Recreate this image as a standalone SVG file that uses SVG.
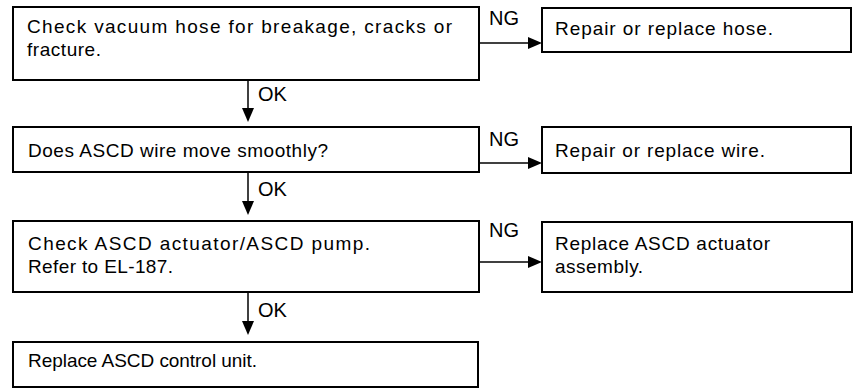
<svg xmlns="http://www.w3.org/2000/svg" width="860" height="388" viewBox="0 0 860 388">
  <style>
    .box { fill: #ffffff; stroke: #000000; stroke-width: 2; }
    .t { font-family: "Liberation Sans", Arial, sans-serif; font-size: 19px; fill: #000000; }
    .lbl { font-family: "Liberation Sans", Arial, sans-serif; font-size: 20px; fill: #000000; }
    .con { stroke: #000000; stroke-width: 1.5; fill: none; marker-end: url(#arr); }
  </style>
  <defs>
    <marker id="arr" markerUnits="userSpaceOnUse" markerWidth="14" markerHeight="12" refX="4" refY="6" orient="auto">
      <path d="M0,0 L14,6 L0,12 Z" fill="#000000"/>
    </marker>
  </defs>
  <rect x="0" y="0" width="860" height="388" fill="#ffffff"/>

  <g id="n1">
    <rect class="box" x="13" y="7" width="466" height="73"/>
    <text class="t" x="27" y="33" textLength="425" lengthAdjust="spacing">Check vacuum hose for breakage, cracks or</text>
    <text class="t" x="27" y="56" textLength="74" lengthAdjust="spacing">fracture.</text>
  </g>
  <g id="n2">
    <rect class="box" x="542" y="8" width="309" height="44"/>
    <text class="t" x="555" y="35" textLength="218" lengthAdjust="spacing">Repair or replace hose.</text>
  </g>
  <g id="n3">
    <rect class="box" x="13" y="127" width="466" height="45"/>
    <text class="t" x="28" y="157" textLength="300" lengthAdjust="spacing">Does ASCD wire move smoothly?</text>
  </g>
  <g id="n4">
    <rect class="box" x="542" y="127" width="309" height="46"/>
    <text class="t" x="555" y="157" textLength="210" lengthAdjust="spacing">Repair or replace wire.</text>
  </g>
  <g id="n5">
    <rect class="box" x="13" y="221" width="466" height="71"/>
    <text class="t" x="28" y="250" textLength="342" lengthAdjust="spacing">Check ASCD actuator/ASCD pump.</text>
    <text class="t" x="28" y="273" textLength="145" lengthAdjust="spacing">Refer to EL-187.</text>
  </g>
  <g id="n6">
    <rect class="box" x="542" y="222" width="310" height="70"/>
    <text class="t" x="555" y="250" textLength="215" lengthAdjust="spacing">Replace ASCD actuator</text>
    <text class="t" x="555" y="273" textLength="88" lengthAdjust="spacing">assembly.</text>
  </g>
  <g id="n7">
    <rect class="box" x="13" y="342" width="465" height="45"/>
    <text class="t" x="28" y="367" textLength="229" lengthAdjust="spacing">Replace ASCD control unit.</text>
  </g>

  <g id="connectors">
    <line class="con" x1="479" y1="43" x2="532" y2="43"/>
    <line class="con" x1="479" y1="163" x2="532" y2="163"/>
    <line class="con" x1="479" y1="262" x2="532" y2="262"/>
    <line class="con" x1="248" y1="80" x2="248" y2="112"/>
    <line class="con" x1="248" y1="172" x2="248" y2="205"/>
    <line class="con" x1="248" y1="292" x2="248" y2="325"/>
    <text class="lbl" x="489" y="25">NG</text>
    <text class="lbl" x="489" y="146">NG</text>
    <text class="lbl" x="489" y="237">NG</text>
    <text class="lbl" x="258" y="101">OK</text>
    <text class="lbl" x="258" y="196">OK</text>
    <text class="lbl" x="258" y="317">OK</text>
  </g>
</svg>
